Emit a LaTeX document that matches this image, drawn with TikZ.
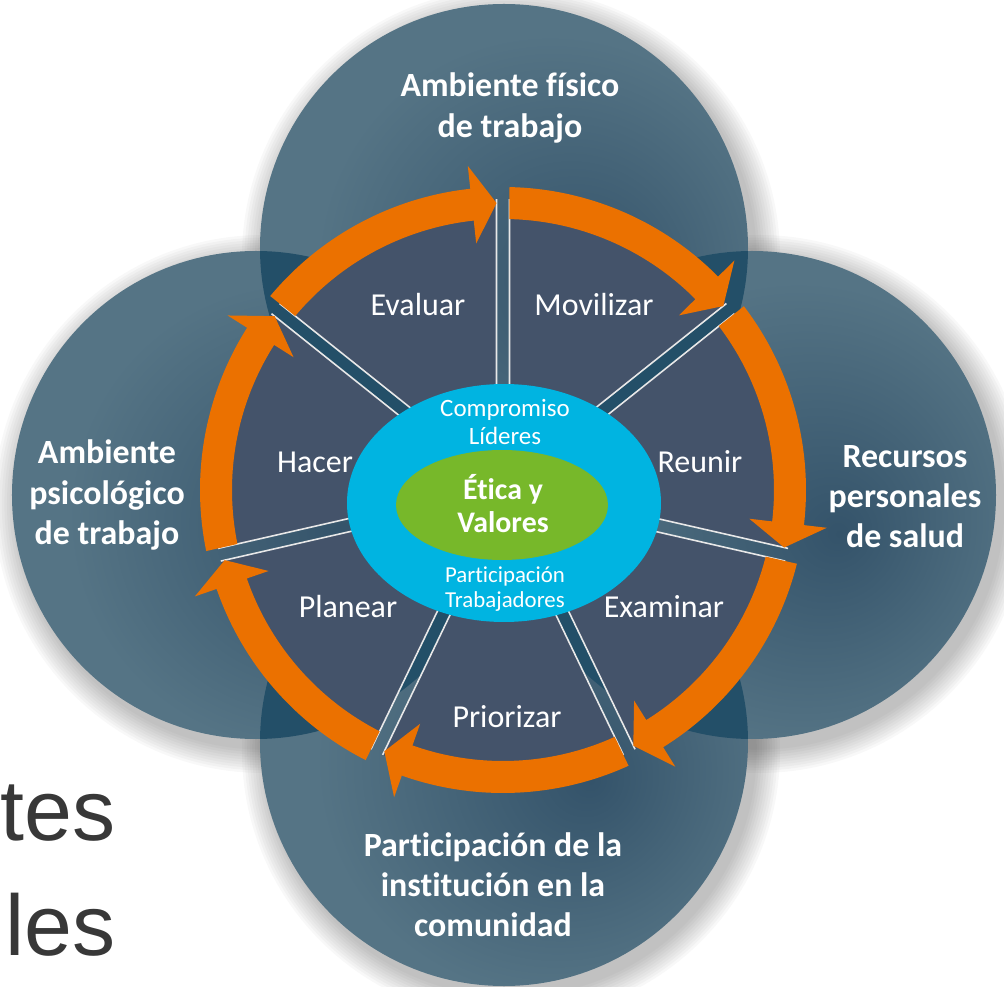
\documentclass[tikz,border=0pt]{standalone}
\usepackage{fontspec}
\setmainfont{Carlito}[Ligatures={CommonOff,ContextualOff}]
\newfontfamily\slideFont{Liberation Sans}
\definecolor{wpPetalLight}{HTML}{7191A5}
\definecolor{wpPetal}{HTML}{557485}
\definecolor{wpPetalDeep}{HTML}{34536A}
\definecolor{wpLens}{HTML}{234F68}
\definecolor{wpSector}{HTML}{44536A}
\definecolor{wpSep}{HTML}{E8E8E8}
\definecolor{wpOrange}{HTML}{EB7100}
\definecolor{wpCyan}{HTML}{00B4E1}
\definecolor{wpGreen}{HTML}{77B82A}
\definecolor{wpSlideText}{HTML}{383838}
\usetikzlibrary{calc}
\pgfdeclareradialshading{petalglow}{\pgfpoint{9bp}{-4bp}}{color(0bp)=(wpPetalDeep); color(24bp)=(wpPetal); color(40bp)=(wpPetal); color(50bp)=(wpPetalLight)}
\tikzset{
  petal/.style={shading=petalglow},
  stepword/.style={text=white, inner sep=0pt, font=\fontsize{18.2}{21}\selectfont},
  themeword/.style={text=white, inner sep=0pt, align=center, font=\fontsize{19.3}{22.8}\selectfont\bfseries},
  coreword/.style={text=white, inner sep=0pt, align=center},
}

\begin{document}
\begin{tikzpicture}[x=0.02cm, y=0.02cm]
  \useasboundingbox (-503,-497) rectangle (501,490);
  % soft shadow under the four circles
  \foreach \cx/\cy in {1/242, -247/-5, 249/-5, 1/-252} {
    \foreach \i in {1,...,10}
      \fill[black, opacity=0.028] (\cx+7,\cy-9) circle[radius=243+2.6*\i];
  }
  % the four circles
  \foreach \cx/\cy in {1/242, -247/-5, 249/-5, 1/-252}
    \shade[petal] (\cx,\cy) circle[radius=244];
  % darker lenses where the circles overlap
  \foreach \cy in {242, -252} {
    \begin{scope}
      \clip (1,\cy) circle[radius=244];
      \fill[wpLens] (-247,-5) circle[radius=244];
      \fill[wpLens] (249,-5) circle[radius=244];
    \end{scope}
  }
  % seven wedges of the wheel
  \foreach \k in {0,...,6} {
    \pgfmathsetmacro\sA{90-51.4286*\k}
    \pgfmathsetmacro\sB{\sA-51.4286}
    \pgfmathsetmacro\sM{\sA-25.7143}
    \fill[wpSector] (\sM:15) -- ({\sA-1.28}:291)
      arc[start angle=\sA-1.28, end angle=\sB+1.28, radius=291] -- cycle;
    \draw[wpSep, line width=0.9pt] ({\sA-1.28}:291) -- (\sM:15) -- ({\sB+1.28}:291);
  }
  % orange ring arrows, clockwise
  \foreach \k in {0,...,6} {
    \pgfmathsetmacro\sA{90-51.4286*\k}
    \pgfmathsetmacro\sB{\sA-51.4286}
    \fill[wpOrange] ({\sA-1.23}:303) arc[start angle=\sA-1.23, end angle=\sB+6.2, radius=303]
      -- ({\sB+6.2}:326) -- ({\sB+1.29}:287) -- ({\sB+6.2}:248) -- ({\sB+6.2}:271)
      arc[start angle=\sB+6.2, end angle=\sA-1.37, radius=271] -- cycle;
  }
  % centre
  \fill[wpCyan] (1,-13) ellipse[x radius=157, y radius=119];
  \fill[wpGreen] (-1,-15) ellipse[x radius=106, y radius=55];
  \node[coreword, font=\fontsize{14.2}{16}\selectfont] (lideres) at (2,68) {Compromiso\\Líderes};
  \node[coreword, font=\fontsize{17}{18.8}\selectfont\bfseries] (etica) at (0,-14) {Ética y\\Valores};
  \node[coreword, font=\fontsize{13}{14}\selectfont] (trabajadores) at (2,-99) {Participación\\Trabajadores};
  % steps
  \node[stepword] (evaluar) at (-85,185) {Evaluar};
  \node[stepword] (movilizar) at (91,185) {Movilizar};
  \node[stepword] (reunir) at (197,28) {Reunir};
  \node[stepword] (examinar) at (161,-117) {Examinar};
  \node[stepword] (priorizar) at (4,-227) {Priorizar};
  \node[stepword] (planear) at (-155,-117) {Planear};
  \node[stepword] (hacer) at (-188,28) {Hacer};
  % themes on the circles
  \node[themeword] (fisico) at (7,382) {Ambiente físico\\de trabajo};
  \node[themeword] (psico) at (-396,-5) {Ambiente\\psicológico\\de trabajo};
  \node[themeword] (recursos) at (402,-7) {Recursos\\personales\\de salud};
  \node[themeword] (comunidad) at (-10,-395) {Participación de la\\institución en la\\comunidad};
  % slide text behind
  \node[anchor=base west, inner sep=0pt, text=wpSlideText, font=\slideFont\fontsize{49}{49}\selectfont] (tes) at (-503,-350) {tes};
  \node[anchor=base west, inner sep=0pt, text=wpSlideText, font=\slideFont\fontsize{49}{49}\selectfont] (les) at (-498,-465) {les};
\end{tikzpicture}
\end{document}
